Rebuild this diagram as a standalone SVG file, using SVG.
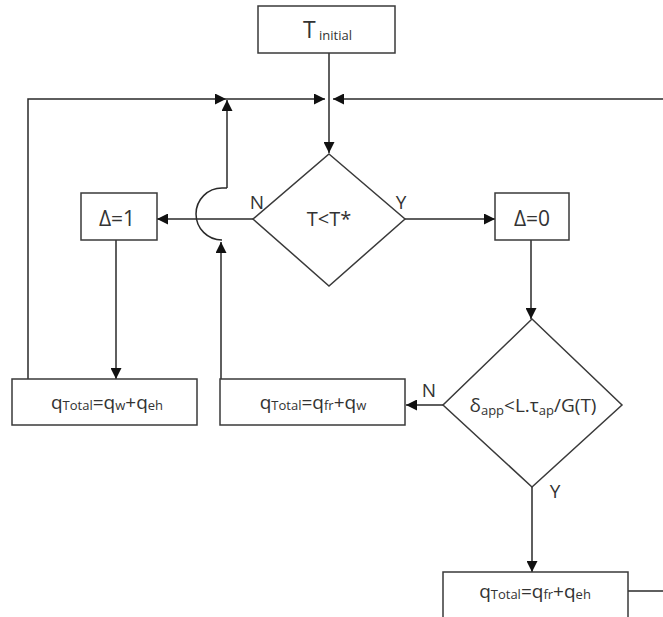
<svg xmlns="http://www.w3.org/2000/svg" width="663" height="617" viewBox="0 0 663 617">
<style>
.s{fill:#fff;stroke:#3a3a3a;stroke-width:1.5}
.l{fill:none;stroke:#2a2a2a;stroke-width:1.5}
text{font-family:"Open Sans","Liberation Sans",sans-serif;fill:#333;font-size:19px}
.c{text-anchor:middle}
.sub{font-size:13px}
</style>
<defs>
<marker id="a" viewBox="0 0 10 10" refX="10" refY="5" markerWidth="12" markerHeight="11" markerUnits="userSpaceOnUse" orient="auto">
<path d="M0,0 L10,5 L0,10 z" fill="#111"/>
</marker>
</defs>
<rect width="663" height="617" fill="#fff"/>
<g id="connectors">
<path class="l" d="M329,53 V153" marker-end="url(#a)"/>
<path class="l" d="M28,379 V99 H226" marker-end="url(#a)"/>
<path class="l" d="M226,99 H325" marker-end="url(#a)"/>
<path class="l" d="M663,99 H333" marker-end="url(#a)"/>
<path class="l" d="M227,188 V100" marker-end="url(#a)"/>
<path class="l" d="M227,188 H222 A26,26 0 0 0 222,240"/>
<path class="l" d="M253,219 H157" marker-end="url(#a)"/>
<path class="l" d="M405,219 H495" marker-end="url(#a)"/>
<path class="l" d="M116,240 V379" marker-end="url(#a)"/>
<path class="l" d="M531,240 V319" marker-end="url(#a)"/>
<path class="l" d="M221,379 V242" marker-end="url(#a)"/>
<path class="l" d="M443,405 H406" marker-end="url(#a)"/>
<path class="l" d="M532,487 V572" marker-end="url(#a)"/>
<path class="l" d="M628,591 H663"/>
</g>
<g id="tinitial">
<rect class="s" x="258" y="6" width="137" height="47"/>
<text x="303" y="38" style="font-size:23px">T</text>
<text x="319" y="40" class="sub">initial</text>
</g>
<g id="dec1">
<path class="s" d="M329,154 L405,219 L329,286 L253,219 z"/>
<text x="329" y="226" class="c" style="font-size:20px">T&lt;T*</text>
<text x="257" y="209" class="c">N</text>
<text x="401" y="209" class="c">Y</text>
</g>
<g id="delta1">
<rect class="s" x="81" y="193" width="76" height="47"/>
<text x="117" y="226" class="c" style="font-size:21px">Δ=1</text>
</g>
<g id="delta0">
<rect class="s" x="495" y="193" width="74" height="47"/>
<text x="532" y="226" class="c" style="font-size:21px">Δ=0</text>
</g>
<g id="dec2">
<path class="s" d="M532,319 L622,405 L532,487 L443,405 z"/>
<text x="533" y="412" class="c">δ<tspan class="sub" dy="3">app</tspan><tspan dy="-3">&lt;L.τ</tspan><tspan class="sub" dy="3">ap</tspan><tspan dy="-3">/G(T)</tspan></text>
<text x="429" y="397" class="c">N</text>
<text x="555" y="498" class="c">Y</text>
</g>
<g id="q1">
<rect class="s" x="12" y="379" width="185" height="46"/>
<text x="107" y="409" class="c">q<tspan class="sub" dy="1">Total</tspan><tspan dy="-1">=q</tspan><tspan class="sub" dy="1">w</tspan><tspan dy="-1">+q</tspan><tspan class="sub" dy="1">eh</tspan></text>
</g>
<g id="q2">
<rect class="s" x="220" y="379" width="185" height="46"/>
<text x="313" y="409" class="c">q<tspan class="sub" dy="1">Total</tspan><tspan dy="-1">=q</tspan><tspan class="sub" dy="1">fr</tspan><tspan dy="-1">+q</tspan><tspan class="sub" dy="1">w</tspan></text>
</g>
<g id="q3">
<rect class="s" x="443" y="572" width="185" height="60"/>
<text x="535" y="598" class="c">q<tspan class="sub" dy="1">Total</tspan><tspan dy="-1">=q</tspan><tspan class="sub" dy="1">fr</tspan><tspan dy="-1">+q</tspan><tspan class="sub" dy="1">eh</tspan></text>
</g>
</svg>
